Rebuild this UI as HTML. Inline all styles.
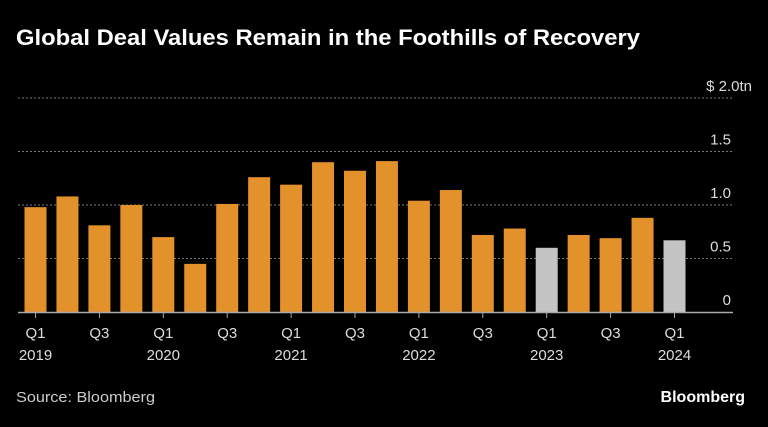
<!DOCTYPE html>
<html><head><meta charset="utf-8"><style>
body{margin:0;background:#000;width:768px;height:422px;overflow:hidden;font-family:"Liberation Sans",sans-serif;}
</style></head><body>
<svg width="768" height="422">
<text x="16" y="45" fill="#fff" font-size="22" font-weight="bold" textLength="624" lengthAdjust="spacingAndGlyphs">Global Deal Values Remain in the Foothills of Recovery</text>
<g id="grid"></g><g id="bars"></g><g id="xaxis"></g>
<text x="16" y="402" fill="#ccc" font-size="15" textLength="139" lengthAdjust="spacingAndGlyphs">Source: Bloomberg</text>
<text x="745" y="402" fill="#fff" font-size="16" font-weight="bold" text-anchor="end">Bloomberg</text>
</svg>
<script>
const values=[0.98,1.08,0.81,1.0,0.70,0.45,1.01,1.26,1.19,1.40,1.32,1.41,1.04,1.14,0.72,0.78,0.60,0.72,0.69,0.88,0.67];
const preliminary=[16,20];
const yTicks=[0,0.5,1.0,1.5,2.0];
const yLabels=["0","0.5","1.0","1.5","$ 2.0tn"];
const xLabels=[["Q1","2019"],["",""],["Q3",""],["",""],["Q1","2020"],["",""],["Q3",""],["",""],["Q1","2021"],["",""],["Q3",""],["",""],["Q1","2022"],["",""],["Q3",""],["",""],["Q1","2023"],["",""],["Q3",""],["",""],["Q1","2024"]];
const NS="http://www.w3.org/2000/svg";
const y=v=>312-v*107;
const xc=i=>35.5+i*31.95;
const bw=22;
function mk(tag,attrs,parent,txt){const e=document.createElementNS(NS,tag);for(const k in attrs)e.setAttribute(k,attrs[k]);if(txt!==undefined)e.textContent=txt;parent.appendChild(e);return e;}
const grid=document.getElementById('grid'),bars=document.getElementById('bars'),xa=document.getElementById('xaxis');
yTicks.forEach((t,i)=>{
 if(t>0){const l=mk('line',{x1:18,x2:733,y1:y(t),y2:y(t),stroke:'#777','stroke-dasharray':'2,2','stroke-width':1},grid);
 
 }
 const tx=mk('text',{x:i==4?752:731,y:y(t)-7,fill:'#ddd','font-size':15,'text-anchor':'end'},grid,yLabels[i]);
 
 
});
values.forEach((v,i)=>{
 const r=mk('rect',{x:xc(i)-bw/2,y:y(v),width:bw,height:312-y(v),fill:preliminary.includes(i)?'#c4c4c4':'#e3912a'},bars);
 
 
 if(xLabels[i][0]){
  const t=mk('line',{x1:xc(i),x2:xc(i),y1:312,y2:318,stroke:'#aaa'},xa);
  
  
  const a=mk('text',{x:xc(i),y:338,fill:'#ddd','font-size':15,'text-anchor':'middle'},xa,xLabels[i][0]);
  
  
  if(xLabels[i][1]){const b=mk('text',{x:xc(i),y:360,fill:'#ddd','font-size':15,'text-anchor':'middle'},xa,xLabels[i][1]);
  
  }
 }
});
const base=mk('line',{x1:18,x2:733,y1:312.5,y2:312.5,stroke:'#aaa','stroke-width':1.5},xa);


</script>
</body></html>
